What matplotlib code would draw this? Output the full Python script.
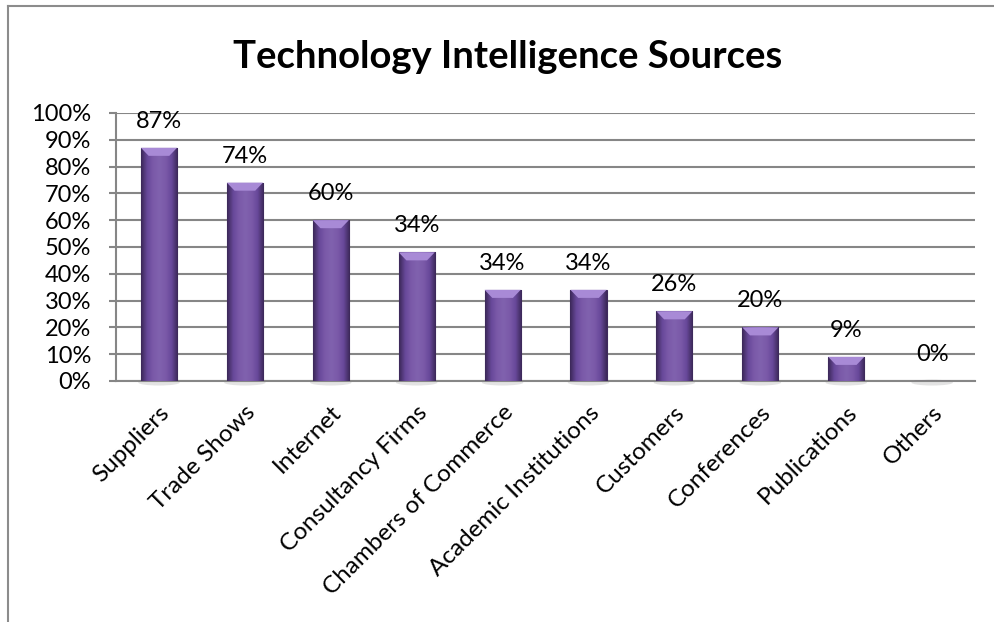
import numpy as np
import matplotlib.pyplot as plt
import matplotlib.transforms as mtransforms
from matplotlib.colors import LinearSegmentedColormap
from matplotlib.patches import Polygon, Ellipse
from matplotlib.lines import Line2D

# Datos
categories = ['Suppliers', 'Trade Shows', 'Internet', 'Consultancy Firms', 'Chambers of Commerce',
              'Academic Institutions', 'Customers', 'Conferences', 'Publications', 'Others']
values = [87, 74, 60, 48, 34, 34, 26, 20, 9, 0]
labels = ['87%', '74%', '60%', '34%', '34%', '34%', '26%', '20%', '9%', '0%']
yticks = list(range(0, 101, 10))

plt.rcParams['font.family'] = ['Lato', 'DejaVu Sans']

fig = plt.figure(figsize=(9.95, 6.22), dpi=100)
ax = fig.add_axes([0.1166, 0.3875, 0.8634, 0.4309])

x = np.arange(len(categories))
w = 0.42
bars = ax.bar(x, values, width=w, color='#7856a3', edgecolor='#3f2a5e', linewidth=0.8, zorder=3)

# degradado horizontal dentro de cada barra + bisel superior
cmap = LinearSegmentedColormap.from_list(
    'bar', ['#3c2859', '#68499a', '#7b5aa9', '#8062ae', '#7b5aa9', '#68499a', '#3c2859'])
grad = np.linspace(0, 1, 64).reshape(1, -1)
for b in bars:
    h = b.get_height()
    x0 = b.get_x()
    x1 = x0 + b.get_width()
    # sombra
    ax.add_patch(Ellipse((x0 + w / 2, -0.6), w * 1.15, 2.2, facecolor='#b0b0b0', alpha=0.35,
                         edgecolor='none', clip_on=False, zorder=2))
    if h <= 0:
        continue
    im = ax.imshow(grad, cmap=cmap, extent=[x0, x1, 0, h], aspect='auto', origin='lower', zorder=3)
    im.set_clip_path(b)
    bh = min(3.0, h * 0.5)
    inset = 0.09
    ax.add_patch(Polygon([[x0, h], [x1, h], [x1 - inset, h - bh], [x0 + inset, h - bh]],
                         closed=True, facecolor='#a88ad6', edgecolor='none', zorder=4))

# etiquetas de datos
for xi, v, lab in zip(x, values, labels):
    ax.annotate(lab, (xi, v), xytext=(0, 19), textcoords='offset points',
                ha='center', va='center', fontsize=17, color='#000000')

ax.set_xlim(-0.5, len(categories) - 0.5)
ax.set_ylim(0, 100)
ax.set_yticks(yticks)
ax.set_yticklabels([f'{t}%' for t in yticks], fontsize=17)
ax.set_xticks(x)
ax.set_xticklabels(categories, rotation=45, ha='right', rotation_mode='anchor', fontsize=17.5)
offset = mtransforms.ScaledTranslation(8 / 100, 0, fig.dpi_scale_trans)
for t in ax.get_xticklabels():
    t.set_transform(t.get_transform() + offset)

ax.tick_params(axis='y', length=5, width=1.5, color='#868686', pad=13)
ax.tick_params(axis='x', length=0, pad=15)
ax.yaxis.grid(True, color='#868686', linewidth=1.5)
ax.set_axisbelow(True)
for s in ['top', 'right']:
    ax.spines[s].set_visible(False)
for s in ['left', 'bottom']:
    ax.spines[s].set_color('#868686')
    ax.spines[s].set_linewidth(1.5)

fig.text(0.51, 0.908, 'Technology Intelligence Sources', ha='center', va='center',
         fontsize=27.5, fontweight='bold')

# marco exterior
fig.add_artist(Line2D([8 / 995, 1], [1 - 6 / 622] * 2, transform=fig.transFigure,
                      color='#8c8c8c', linewidth=1.5))
fig.add_artist(Line2D([8 / 995] * 2, [0, 1 - 6 / 622], transform=fig.transFigure,
                      color='#8c8c8c', linewidth=1.5))

fig.savefig('out.png', dpi=100)
